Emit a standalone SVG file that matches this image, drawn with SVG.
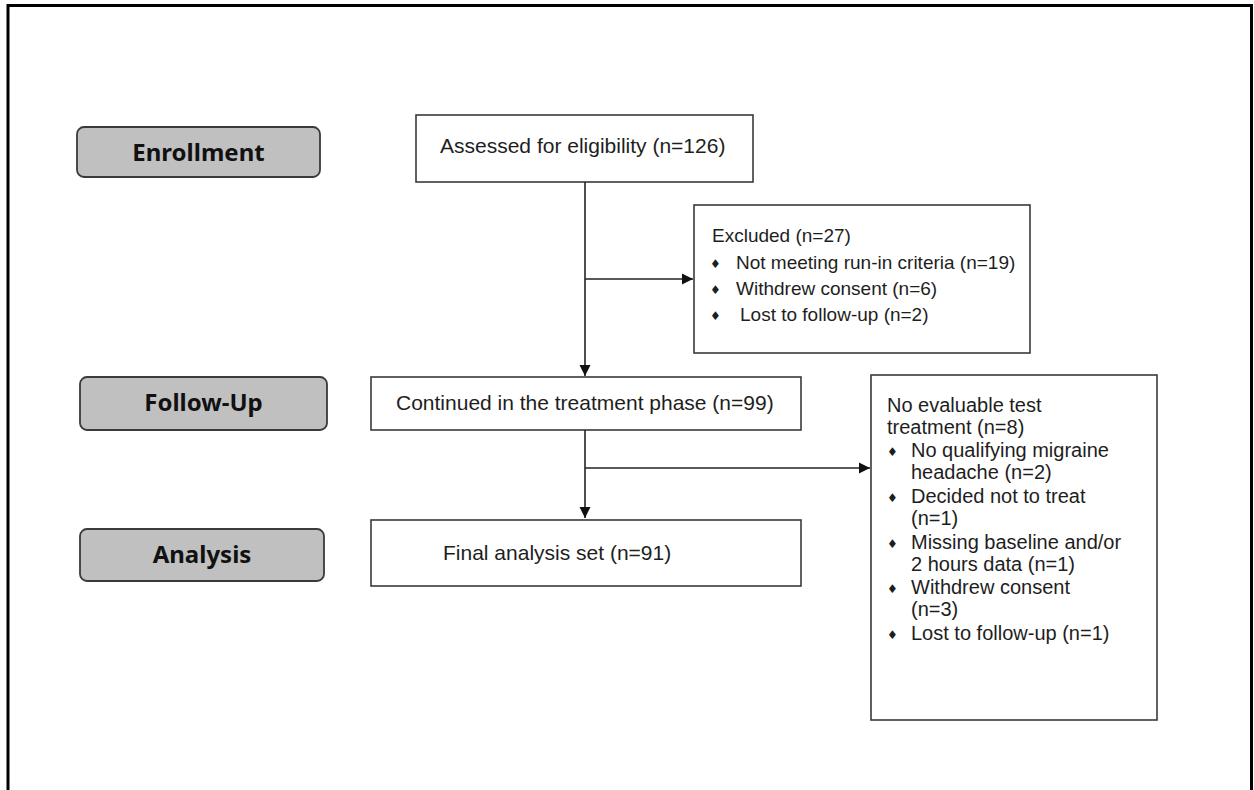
<svg xmlns="http://www.w3.org/2000/svg" width="1254" height="790" viewBox="0 0 1254 790">
<style>
.lbl{fill:#c0c0c0;stroke:#3a3a3a;stroke-width:1.8}
.lt{font-family:"Noto Sans","Open Sans",sans-serif;font-weight:bold;font-size:24px;fill:#111;text-anchor:middle}
.box{fill:#fff;stroke:#3a3a3a;stroke-width:1.6}
.t{font-family:"Liberation Sans",Arial,sans-serif;font-size:20px;fill:#1e1e1e}
.m{font-size:21px}
.s{font-size:19px}
.b{font-family:"DejaVu Sans",sans-serif;font-size:12px;fill:#1e1e1e}
.c{stroke:#222;stroke-width:1.6;fill:none}
</style>
<defs>
<marker id="ah" markerUnits="userSpaceOnUse" markerWidth="12" markerHeight="12" refX="11" refY="6" orient="auto">
<path d="M0,0.5 L11,6 L0,11.5 Z" fill="#111"/>
</marker>
</defs>
<rect width="1254" height="790" fill="#fff"/>
<path d="M8,790 V5.5 H1251.5 V790" fill="none" stroke="#000" stroke-width="3"/>

<g id="enrollment"><rect class="lbl" x="77" y="127" width="243" height="50" rx="7"/><text class="lt" x="198.5" y="161">Enrollment</text></g>
<g id="followup"><rect class="lbl" x="80" y="377" width="247" height="53" rx="7"/><text class="lt" x="203.5" y="411">Follow-Up</text></g>
<g id="analysis"><rect class="lbl" x="80" y="529" width="244" height="52" rx="7"/><text class="lt" x="202" y="563">Analysis</text></g>

<g id="assessed"><rect class="box" x="416" y="115" width="337" height="67"/><text class="t m" x="440" y="153">Assessed for eligibility (n=126)</text></g>

<g id="excluded"><rect class="box" x="694" y="205" width="336" height="148"/>
<text class="t s" x="712" y="242">Excluded (n=27)</text>
<text class="b" x="710" y="268">♦</text><text class="t s" x="736" y="269">Not meeting run-in criteria (n=19)</text>
<text class="b" x="710" y="294">♦</text><text class="t s" x="736" y="295">Withdrew consent (n=6)</text>
<text class="b" x="710" y="320">♦</text><text class="t s" x="740" y="321">Lost to follow-up (n=2)</text>
</g>

<g id="continued"><rect class="box" x="371" y="377" width="430" height="53"/><text class="t m" x="396" y="410">Continued in the treatment phase (n=99)</text></g>

<g id="final"><rect class="box" x="371" y="520" width="430" height="66"/><text class="t m" x="443" y="560">Final analysis set (n=91)</text></g>

<g id="noeval"><rect class="box" x="871" y="375" width="286" height="345"/>
<text class="t" x="887" y="412">No evaluable test</text>
<text class="t" x="887" y="434">treatment (n=8)</text>
<text class="b" x="887" y="456">♦</text><text class="t" x="911" y="457">No qualifying migraine</text>
<text class="t" x="911" y="479">headache (n=2)</text>
<text class="b" x="887" y="502">♦</text><text class="t" x="911" y="503">Decided not to treat</text>
<text class="t" x="911" y="525">(n=1)</text>
<text class="b" x="887" y="548">♦</text><text class="t" x="911" y="549">Missing baseline and/or</text>
<text class="t" x="911" y="571">2 hours data (n=1)</text>
<text class="b" x="887" y="593">♦</text><text class="t" x="911" y="594">Withdrew consent</text>
<text class="t" x="911" y="616">(n=3)</text>
<text class="b" x="887" y="639">♦</text><text class="t" x="911" y="640">Lost to follow-up (n=1)</text>
</g>

<g id="connectors">
<line class="c" x1="585" y1="182" x2="585" y2="376" marker-end="url(#ah)"/>
<line class="c" x1="585" y1="279" x2="693" y2="279" marker-end="url(#ah)"/>
<line class="c" x1="585" y1="430" x2="585" y2="518" marker-end="url(#ah)"/>
<line class="c" x1="585" y1="468" x2="870" y2="468" marker-end="url(#ah)"/>
</g>
</svg>
